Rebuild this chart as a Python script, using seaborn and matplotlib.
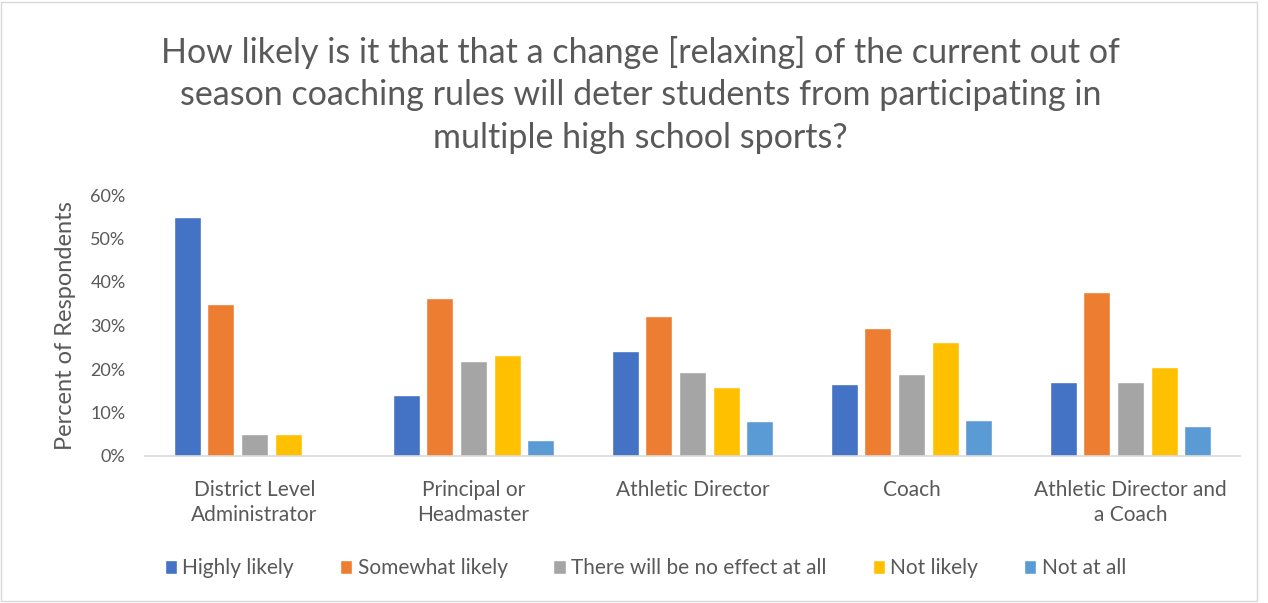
import matplotlib
matplotlib.use("Agg")
import matplotlib.pyplot as plt
import matplotlib.patches as mpatches
import matplotlib.ticker as mticker
import numpy as np
import pandas as pd
import seaborn as sns

roles = ["District Level\nAdministrator", "Principal or\nHeadmaster", "Athletic Director",
         "Coach", "Athletic Director and\na Coach"]
responses = ["Highly likely", "Somewhat likely", "There will be no effect at all",
             "Not likely", "Not at all"]
highly_likely = [55.0, 14.1, 24.1, 16.5, 17.0]
somewhat_likely = [35.0, 36.3, 32.2, 29.5, 37.8]
no_effect = [5.0, 21.9, 19.2, 18.8, 17.0]
not_likely = [5.0, 23.3, 15.9, 26.3, 20.5]
not_at_all = [np.nan, 3.7, 8.0, 8.2, 6.8]
colors = ["#4472C4", "#ED7D31", "#A5A5A5", "#FFC000", "#5B9BD5"]

rows = []
for resp, vals in zip(responses, [highly_likely, somewhat_likely, no_effect, not_likely, not_at_all]):
    for role, v in zip(roles, vals):
        rows.append({"role": role, "response": resp, "pct": v})
df = pd.DataFrame(rows)

sns.set_style("white")
plt.rcParams["font.family"] = ["Lato", "DejaVu Sans"]
text_color = "#595959"

fig = plt.figure(figsize=(12.68, 6.03), dpi=100)
ax = fig.add_axes([145 / 1268, 1 - 456 / 603, 1095 / 1268, 261 / 603])

sns.barplot(data=df, x="role", y="pct", hue="response", hue_order=responses,
            palette=colors, saturation=1, width=0.77, gap=0.2, ax=ax, legend=True)

ax.set_ylim(0, 60)
ax.set_xlim(-0.5, 4.5)
ax.yaxis.set_major_locator(mticker.MultipleLocator(10))
ax.yaxis.set_major_formatter(mticker.FuncFormatter(lambda v, p: f"{v:.0f}%"))
ax.tick_params(axis="both", length=0, colors=text_color)
ax.tick_params(axis="y", labelsize=13, pad=14)
ax.tick_params(axis="x", labelsize=15, pad=17)
for lab in ax.get_xticklabels():
    lab.set_linespacing(1.35)
ax.set_xlabel("")
ax.set_ylabel("Percent of Respondents", color=text_color, fontsize=17, labelpad=10)
for s in ["top", "right", "left"]:
    ax.spines[s].set_visible(False)
ax.spines["bottom"].set_color("#D9D9D9")
ax.spines["bottom"].set_linewidth(1.2)

handles, labels = ax.get_legend_handles_labels()
ax.legend(handles, labels, loc="center", bbox_to_anchor=(0.457, -0.43), ncol=5,
          frameon=False, fontsize=15, labelcolor=text_color, handlelength=0.6,
          handleheight=0.6, handletextpad=0.25, columnspacing=2.2)

fig.text(0.505, 0.745, "How likely is it that that a change [relaxing] of the current out of\n"
         "season coaching rules will deter students from participating in\n"
         "multiple high school sports?", ha="center", va="bottom",
         fontsize=24.5, color=text_color, linespacing=1.4)

fig.patches.append(mpatches.Rectangle((0.001, 0.003), 0.99, 0.994, transform=fig.transFigure,
                                      fill=False, edgecolor="#D9D9D9", linewidth=1))

fig.savefig("out.png", dpi=100)
